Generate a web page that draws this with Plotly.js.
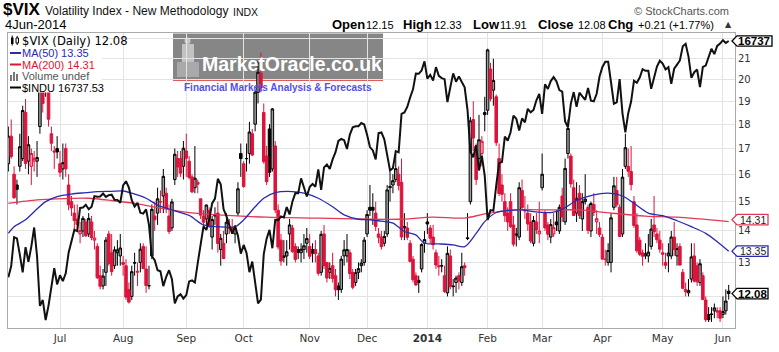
<!DOCTYPE html>
<html><head><meta charset="utf-8">
<script src="https://cdn.plot.ly/plotly-3.0.1.min.js"></script>
<style>html,body{margin:0;padding:0;background:#fff}#chart{width:779px;height:352px}</style>
</head><body><div id="chart"></div>
<script>
// ---------- categories (trading days) ----------
const tradingDays = [
'2013-06-05','2013-06-06','2013-06-07','2013-06-10','2013-06-11','2013-06-12','2013-06-13','2013-06-14','2013-06-17','2013-06-18','2013-06-19','2013-06-20','2013-06-21','2013-06-24','2013-06-25','2013-06-26','2013-06-27','2013-06-28',
'2013-07-01','2013-07-02','2013-07-03','2013-07-05','2013-07-08','2013-07-09','2013-07-10','2013-07-11','2013-07-12','2013-07-15','2013-07-16','2013-07-17','2013-07-18','2013-07-19','2013-07-22','2013-07-23','2013-07-24','2013-07-25','2013-07-26','2013-07-29','2013-07-30','2013-07-31',
'2013-08-01','2013-08-02','2013-08-05','2013-08-06','2013-08-07','2013-08-08','2013-08-09','2013-08-12','2013-08-13','2013-08-14','2013-08-15','2013-08-16','2013-08-19','2013-08-20','2013-08-21','2013-08-22','2013-08-23','2013-08-26','2013-08-27','2013-08-28','2013-08-29','2013-08-30',
'2013-09-03','2013-09-04','2013-09-05','2013-09-06','2013-09-09','2013-09-10','2013-09-11','2013-09-12','2013-09-13','2013-09-16','2013-09-17','2013-09-18','2013-09-19','2013-09-20','2013-09-23','2013-09-24','2013-09-25','2013-09-26','2013-09-27','2013-09-30',
'2013-10-01','2013-10-02','2013-10-03','2013-10-04','2013-10-07','2013-10-08','2013-10-09','2013-10-10','2013-10-11','2013-10-14','2013-10-15','2013-10-16','2013-10-17','2013-10-18','2013-10-21','2013-10-22','2013-10-23','2013-10-24','2013-10-25','2013-10-28','2013-10-29','2013-10-30','2013-10-31',
'2013-11-01','2013-11-04','2013-11-05','2013-11-06','2013-11-07','2013-11-08','2013-11-11','2013-11-12','2013-11-13','2013-11-14','2013-11-15','2013-11-18','2013-11-19','2013-11-20','2013-11-21','2013-11-22','2013-11-25','2013-11-26','2013-11-27','2013-11-29',
'2013-12-02','2013-12-03','2013-12-04','2013-12-05','2013-12-06','2013-12-09','2013-12-10','2013-12-11','2013-12-12','2013-12-13','2013-12-16','2013-12-17','2013-12-18','2013-12-19','2013-12-20','2013-12-23','2013-12-24','2013-12-26','2013-12-27','2013-12-30','2013-12-31',
'2014-01-02','2014-01-03','2014-01-06','2014-01-07','2014-01-08','2014-01-09','2014-01-10','2014-01-13','2014-01-14','2014-01-15','2014-01-16','2014-01-17','2014-01-21','2014-01-22','2014-01-23','2014-01-24','2014-01-27','2014-01-28','2014-01-29','2014-01-30','2014-01-31',
'2014-02-03','2014-02-04','2014-02-05','2014-02-06','2014-02-07','2014-02-10','2014-02-11','2014-02-12','2014-02-13','2014-02-14','2014-02-18','2014-02-19','2014-02-20','2014-02-21','2014-02-24','2014-02-25','2014-02-26','2014-02-27','2014-02-28',
'2014-03-03','2014-03-04','2014-03-05','2014-03-06','2014-03-07','2014-03-10','2014-03-11','2014-03-12','2014-03-13','2014-03-14','2014-03-17','2014-03-18','2014-03-19','2014-03-20','2014-03-21','2014-03-24','2014-03-25','2014-03-26','2014-03-27','2014-03-28','2014-03-31',
'2014-04-01','2014-04-02','2014-04-03','2014-04-04','2014-04-07','2014-04-08','2014-04-09','2014-04-10','2014-04-11','2014-04-14','2014-04-15','2014-04-16','2014-04-17','2014-04-21','2014-04-22','2014-04-23','2014-04-24','2014-04-25','2014-04-28','2014-04-29','2014-04-30',
'2014-05-01','2014-05-02','2014-05-05','2014-05-06','2014-05-07','2014-05-08','2014-05-09','2014-05-12','2014-05-13','2014-05-14','2014-05-15','2014-05-16','2014-05-19','2014-05-20','2014-05-21','2014-05-22','2014-05-23','2014-05-27','2014-05-28','2014-05-29','2014-05-30',
'2014-06-02','2014-06-03','2014-06-04'];

// ---------- $VIX daily OHLC ----------
const vixOpen = [
16.4,17.5,16.0,15.6,16.3,16.6,18.5,16.5,16.3,16.5,16.5,17.9,20.0,20.4,19.5,17.6,16.9,17.0,
16.4,16.2,17.0,15.6,15.0,14.6,14.4,13.9,14.0,14.3,13.9,14.3,13.7,13.5,12.6,12.3,12.7,13.9,13.3,12.9,13.3,13.2,
13.0,12.9,12.2,12.0,13.0,12.7,13.0,13.5,12.8,12.3,13.2,14.5,14.6,15.0,15.2,15.3,14.5,14.1,15.8,16.6,16.6,16.3,
16.9,16.5,15.9,15.5,15.7,15.1,14.5,14.4,14.7,13.8,14.5,14.6,13.4,13.6,13.9,14.1,14.1,13.9,14.6,16.8,
16.4,16.6,16.8,17.6,18.0,19.4,20.3,18.5,16.7,17.8,16.2,17.1,14.7,13.7,13.2,13.2,13.9,14.1,13.5,13.4,13.3,13.4,13.6,
13.5,13.4,13.4,13.2,12.7,13.9,13.0,12.7,12.9,12.6,12.3,12.2,13.2,13.2,13.3,12.7,12.4,12.7,12.9,13.0,
13.9,14.8,14.8,14.6,13.9,13.8,13.6,13.9,15.5,15.6,15.8,16.0,15.7,14.1,14.1,13.6,13.1,12.6,12.4,12.8,13.6,
14.3,14.1,13.8,13.3,12.9,12.9,12.6,12.1,13.2,12.3,12.4,12.6,12.4,12.9,13.75,15.0,18.2,17.1,16.6,16.8,18.5,
18.6,20.5,19.5,19.2,16.6,15.6,15.0,14.6,15.0,14.2,13.9,13.8,15.4,14.7,14.6,14.3,13.6,14.3,13.9,
15.5,14.6,14.2,13.8,13.9,14.3,14.0,15.2,14.3,16.8,16.7,15.5,14.6,15.3,14.4,15.0,14.8,14.0,14.9,14.3,14.1,
13.8,13.1,13.0,13.0,14.8,15.4,14.8,13.9,16.3,16.3,16.1,15.0,14.2,13.7,13.3,13.2,13.2,13.5,14.2,13.9,13.7,
13.3,13.0,13.2,13.2,13.8,13.2,13.5,12.7,12.2,12.1,12.5,13.2,12.9,12.4,12.6,11.9,11.5,11.5,11.6,11.6,11.6,
11.5,11.6,12.15];
const vixHigh = [
17.9,18.2,16.3,15.8,17.6,18.8,19.1,17.5,17.0,16.9,17.3,21.0,21.9,21.9,19.9,17.9,17.1,17.5,
16.9,17.2,17.2,16.0,15.2,14.9,14.9,14.3,14.5,14.4,14.6,14.5,14.0,13.6,12.9,12.8,13.8,14.0,13.9,13.5,13.7,13.9,
13.2,13.1,12.4,12.9,13.3,13.0,13.6,13.6,13.5,12.9,14.9,15.0,15.5,15.4,16.2,15.5,14.9,15.1,17.0,16.9,16.9,17.3,
17.6,16.7,16.0,17.1,15.8,15.1,14.7,14.9,14.8,14.5,14.8,15.0,13.9,14.0,14.6,14.4,14.4,14.2,15.7,17.2,
16.5,17.2,18.1,17.8,19.5,20.9,21.3,18.9,17.1,18.0,18.7,17.3,14.9,13.9,13.7,13.7,14.4,14.2,13.6,13.5,13.6,13.9,14.1,
13.9,13.6,13.7,13.3,14.0,14.2,13.0,13.0,13.3,12.8,12.4,13.2,13.7,13.9,13.4,12.8,12.8,13.0,13.1,13.8,
14.7,15.6,15.3,15.0,14.1,14.0,14.0,15.6,16.1,16.0,16.8,16.3,16.6,14.6,14.3,13.7,13.2,12.7,12.6,13.6,14.0,
14.6,14.2,14.2,13.4,13.2,13.1,12.9,13.5,13.4,12.5,12.6,12.7,13.3,13.0,14.6,18.3,19.0,17.2,18.4,17.5,19.2,
21.5,20.8,21.0,19.3,17.2,16.0,15.3,14.8,15.3,14.5,14.1,15.7,15.8,15.2,14.9,14.6,14.5,14.6,15.0,
16.8,14.7,14.3,14.4,14.6,14.7,14.9,15.5,16.6,18.2,16.8,15.8,15.7,15.6,15.3,16.0,14.9,15.0,15.3,14.7,14.3,
13.9,13.4,13.6,14.6,15.9,15.9,14.9,16.2,17.6,17.0,17.1,15.2,14.6,13.8,13.4,13.6,13.9,14.4,15.2,14.1,14.0,
13.6,13.3,13.6,14.0,14.3,13.6,13.6,12.8,12.4,12.5,13.6,13.6,13.0,13.1,12.7,12.0,11.7,11.7,11.8,11.7,11.7,
12.0,12.2,12.33];
const vixLow = [
16.1,16.6,15.1,14.9,16.1,16.5,16.2,16.0,15.6,16.1,15.9,17.6,18.5,19.2,17.9,16.9,16.2,16.6,
15.9,15.8,15.9,14.7,14.5,14.0,14.0,13.6,13.8,13.8,13.8,13.7,13.4,12.5,12.2,12.2,12.3,12.9,12.6,12.8,12.9,12.9,
12.6,11.9,11.8,11.9,12.6,12.3,12.7,12.8,12.1,12.2,13.1,14.0,14.2,14.6,14.6,14.6,13.9,14.0,15.6,15.9,15.9,15.8,
15.9,15.8,15.3,15.3,15.3,14.4,14.1,14.2,14.1,13.4,14.2,13.3,12.9,13.1,13.6,13.9,13.9,13.6,14.5,15.9,
15.5,16.1,16.4,16.7,17.7,18.9,19.4,16.4,15.6,15.9,16.1,14.6,13.4,12.9,13.0,12.9,13.4,13.3,13.0,13.1,13.0,13.1,13.3,
13.1,13.0,13.0,12.6,12.6,12.8,12.4,12.5,12.4,12.0,11.9,12.1,12.9,13.0,12.5,12.2,12.3,12.5,12.7,12.9,
13.8,14.5,14.2,14.0,13.6,13.4,13.5,13.8,15.0,15.3,15.7,15.4,13.7,13.7,13.7,13.0,12.4,12.3,12.1,12.7,13.3,
13.9,13.6,13.4,12.8,12.6,12.7,12.1,12.0,12.2,12.0,12.1,12.2,12.3,12.6,13.7,14.9,16.9,15.6,16.2,16.3,17.7,
18.4,19.0,18.8,17.1,15.2,15.0,14.3,14.0,14.1,13.5,13.5,13.7,14.7,14.4,14.0,13.6,13.5,13.9,13.6,
15.4,14.0,13.7,13.6,13.8,14.0,13.9,14.3,14.2,16.6,15.5,14.5,14.3,14.4,14.0,14.9,13.9,13.8,14.5,13.9,13.8,
13.1,12.9,12.9,12.7,14.7,14.8,13.8,13.8,16.2,15.9,15.4,14.1,13.3,13.2,12.9,13.1,13.0,13.4,13.8,13.6,13.3,
12.9,12.8,12.7,13.1,13.2,12.9,12.9,12.2,12.0,12.0,12.4,12.4,12.3,12.3,11.9,11.3,11.3,11.3,11.4,11.4,11.3,
11.4,11.5,11.91];
const vixClose = [
17.50,16.68,15.14,15.44,17.07,18.59,16.41,17.15,16.80,16.61,16.64,20.49,18.90,20.11,18.21,17.21,16.86,16.86,
16.07,16.44,16.20,14.89,14.78,14.35,14.21,14.01,14.42,13.84,14.42,13.78,13.77,12.54,12.29,12.59,13.70,12.97,12.72,13.39,13.39,13.45,
12.94,11.98,11.84,12.72,12.98,12.73,13.41,12.81,12.31,12.31,14.73,14.37,15.10,14.99,15.92,14.76,13.98,14.99,16.77,16.27,16.04,17.01,
16.61,15.88,15.35,15.85,15.63,14.53,14.29,14.88,14.16,14.38,14.53,13.59,13.76,13.12,14.29,14.08,14.01,14.08,15.46,16.60,
15.54,16.60,17.67,16.74,19.41,20.34,19.60,16.48,15.72,16.07,18.66,14.71,13.48,13.04,13.16,13.33,14.20,13.33,13.09,13.31,13.41,13.52,13.75,
13.19,13.28,13.27,12.67,13.89,12.90,12.53,12.82,12.52,12.19,12.19,13.10,13.39,13.40,12.66,12.26,12.69,12.81,12.98,13.70,
14.55,14.70,14.70,14.15,13.79,13.49,13.82,15.42,15.54,15.76,16.21,15.58,13.80,14.15,13.79,13.03,12.48,12.33,12.46,13.56,13.72,
14.23,13.76,13.55,12.92,12.87,12.89,12.14,13.28,12.28,12.28,12.53,12.44,12.87,12.84,13.77,18.14,17.42,15.80,17.35,17.29,18.41,
21.44,19.11,19.95,17.23,15.29,15.26,14.51,14.30,14.14,13.57,13.87,15.50,14.79,14.68,14.23,13.67,14.35,14.04,14.00,
16.00,14.10,13.89,14.21,14.11,14.20,14.80,14.47,16.22,17.82,15.64,14.52,15.12,14.52,15.00,15.09,14.02,14.93,14.62,14.41,13.88,
13.10,13.09,13.37,14.44,15.57,14.89,13.82,15.89,17.03,16.11,15.61,14.18,13.36,13.25,13.19,13.27,13.32,14.06,13.97,13.71,13.41,
13.25,12.91,13.29,13.80,13.40,13.43,12.92,12.23,12.13,12.17,13.17,12.44,12.42,12.96,11.91,11.36,11.36,11.51,11.68,11.57,11.40,
11.58,11.87,12.08];

// ---------- $INDU daily close (overlay) ----------
const induClose = [
14960.59,15040.62,15248.12,15238.59,15122.02,14995.23,15176.08,15070.18,15179.85,15318.23,15112.19,14758.32,14799.40,14659.56,14760.31,14910.14,15024.49,14909.60,
14974.96,14932.41,14988.55,15135.84,15224.69,15300.34,15291.66,15460.92,15464.30,15484.26,15451.85,15470.52,15548.54,15543.74,15545.55,15567.74,15542.24,15555.61,15558.83,15521.97,15520.59,15499.54,
15628.02,15658.36,15612.13,15518.74,15470.67,15498.32,15425.51,15419.68,15451.01,15337.66,15112.19,15081.47,15010.74,15002.99,14897.55,14963.74,15010.51,14946.46,14776.13,14824.51,14840.95,14810.31,
14833.96,14930.87,14937.48,14922.50,15063.12,15191.06,15326.60,15300.64,15376.06,15494.78,15529.73,15676.94,15636.55,15451.09,15401.38,15334.59,15273.26,15328.30,15258.24,15129.67,
15191.70,15133.14,14996.48,15072.58,14936.24,14776.53,14802.98,15126.07,15237.11,15301.26,15168.01,15373.83,15371.65,15399.65,15392.20,15467.66,15413.33,15509.21,15570.28,15568.93,15680.35,15618.76,15545.75,
15615.55,15639.12,15618.22,15746.88,15593.98,15761.78,15783.10,15750.67,15821.63,15876.22,15961.70,15976.02,15967.03,15900.82,16009.99,16064.77,16072.54,16072.80,16097.33,16086.41,
16008.77,15914.62,15889.77,15821.51,16020.20,16025.53,15973.13,15843.53,15739.43,15755.36,15884.57,15875.26,16167.97,16179.08,16221.14,16294.61,16357.55,16479.88,16478.41,16504.29,16576.66,
16441.35,16469.99,16425.10,16530.94,16462.74,16444.76,16437.05,16257.94,16373.86,16481.94,16417.01,16458.56,16414.44,16373.34,16197.35,15879.11,15837.88,15928.56,15738.79,15848.61,15698.85,
15372.80,15445.24,15440.23,15628.53,15794.08,15801.79,15994.77,15963.94,16027.59,16154.39,16130.40,16040.56,16133.23,16103.30,16207.14,16179.66,16198.41,16272.65,16321.71,
16168.03,16395.88,16360.18,16421.89,16452.72,16418.68,16351.25,16340.08,16108.89,16065.67,16247.22,16336.19,16222.17,16331.05,16302.77,16276.69,16367.88,16268.99,16264.23,16323.06,16457.66,
16532.61,16573.00,16572.55,16412.71,16245.87,16256.14,16437.18,16170.22,16026.75,16173.24,16262.56,16424.85,16408.54,16449.25,16514.37,16501.65,16501.65,16361.46,16448.74,16535.37,16580.84,
16558.87,16512.89,16530.55,16401.02,16518.54,16550.97,16583.34,16695.47,16715.44,16613.97,16446.81,16491.31,16511.86,16374.31,16533.06,16543.08,16606.27,16675.50,16633.18,16698.74,16717.17,
16743.63,16722.34,16737.53];

// ---------- moving averages ----------
const ma50Dates = ['2013-06-05','2013-06-07','2013-06-13','2013-06-18','2013-06-24','2013-06-28','2013-07-08','2013-07-15','2013-07-19','2013-07-26',
'2013-08-01','2013-08-06','2013-08-13','2013-08-19','2013-08-26','2013-09-04','2013-09-11','2013-09-18','2013-09-26','2013-10-01','2013-10-07','2013-10-10','2013-10-16','2013-10-24','2013-10-30',
'2013-11-06','2013-11-13','2013-11-19','2013-11-26','2013-12-03','2013-12-06','2013-12-13','2013-12-19','2013-12-26','2013-12-31','2014-01-08','2014-01-15','2014-01-22','2014-01-28','2014-01-31',
'2014-02-06','2014-02-12','2014-02-20','2014-02-26','2014-03-06','2014-03-12','2014-03-19','2014-03-27','2014-04-03','2014-04-10','2014-04-16','2014-04-24','2014-05-01','2014-05-08','2014-05-15','2014-05-22','2014-05-29','2014-06-04'];
const ma50Values = [13.92,14.14,14.37,14.65,15.00,15.18,15.27,15.32,15.36,15.37,
15.38,15.30,15.12,14.88,14.71,14.52,14.20,14.14,14.14,14.37,14.82,15.12,15.32,15.36,15.30,
15.12,14.82,14.54,14.39,14.37,14.34,14.26,13.98,13.87,13.60,13.58,13.55,13.49,13.92,14.31,
14.62,14.69,14.71,14.65,14.62,14.73,15.04,15.24,15.30,15.20,14.94,14.60,14.51,14.34,14.14,13.92,13.65,13.35];
const ma200Dates = ['2013-06-05','2013-06-19','2013-06-28','2013-07-16','2013-07-26','2013-08-08','2013-08-20','2013-09-04','2013-09-18','2013-10-11','2013-11-06','2013-12-03',
'2013-12-17','2014-01-06','2014-01-22','2014-01-31','2014-02-18','2014-03-06','2014-03-20','2014-04-04','2014-04-23','2014-05-08','2014-06-04'];
const ma200Values = [14.94,15.06,15.10,15.12,15.04,14.92,14.77,14.62,14.54,14.46,14.43,14.39,
14.39,14.46,14.43,14.57,14.71,14.71,14.71,14.60,14.50,14.46,14.31];

// ---------- axis ticks ----------
const monthTickDates = ['2013-07-01','2013-08-01','2013-09-03','2013-10-01','2013-11-01','2013-12-02','2014-01-02','2014-02-03','2014-03-03','2014-04-01','2014-05-01','2014-06-02'];
const monthTickLabels = ['Jul','Aug','Sep','Oct','Nov','Dec','<b>2014</b>','Feb','Mar','Apr','May','Jun'];
const yTickValues = [12,13,14,15,16,17,18,19,20,21,22];
const yTickLabels = ['','13','14','15','16','17','18','19','20','21',''];

// ---------- geometry helpers ----------
const PL=8, PR=735, PT=33, PB=328;
const X = px => (px-PL)/(PR-PL);
const Y = py => (PB-py)/(PB-PT);
const vixRange = [Math.log10(11.14), Math.log10(22.31)];
const induRange = [4.16447, 4.22534];
const pyOf = (v, r) => PT + (r[1]-Math.log10(v))/(r[1]-r[0])*(PB-PT);

// ---------- split candles (black: close >= prior close, red: lower) ----------
const mk = () => ({x:[],open:[],high:[],low:[],close:[]});
const blackG = mk(), redG = mk();
tradingDays.forEach((d,i) => {
  const g = (i===0 || vixClose[i] >= vixClose[i-1]) ? blackG : redG;
  g.x.push(d); g.open.push(vixOpen[i]); g.high.push(vixHigh[i]); g.low.push(vixLow[i]); g.close.push(vixClose[i]);
});
const RED = '#dc143c';
const candle = (g, col, hollow) => ({
  type:'candlestick', x:g.x, open:g.open, high:g.high, low:g.low, close:g.close,
  increasing:{line:{color:col,width:1}, fillcolor:hollow},
  decreasing:{line:{color:col,width:1}, fillcolor:col},
  whiskerwidth:0, hoverinfo:'skip', showlegend:false
});

const traces = [
  candle(blackG, '#000000', '#9c9c9c'),
  candle(redG, RED, '#f4a3b6'),
  {type:'scatter', mode:'lines', x:ma200Dates, y:ma200Values, line:{color:'#e23a55', width:1.3, shape:'spline', smoothing:0.8}, hoverinfo:'skip'},
  {type:'scatter', mode:'lines', x:ma50Dates, y:ma50Values, line:{color:'#2a2ab0', width:1.3, shape:'spline', smoothing:0.8}, hoverinfo:'skip'},
  {type:'scatter', mode:'lines', x:tradingDays, y:induClose, yaxis:'y2', line:{color:'#111111', width:2}, hoverinfo:'skip'}
];

// ---------- annotations ----------
const SANS = 'Liberation Sans, Arial, sans-serif';
const DJV = 'DejaVu Sans, Verdana, sans-serif';
const ann = (px, py, text, size, color, family, extra) => Object.assign({
  xref:'paper', yref:'paper', x:X(px), y:Y(py), text:text, showarrow:false,
  xanchor:'left', yanchor:'middle', borderpad:0,
  font:{family:family||SANS, size:size, color:color||'#000'}
}, extra||{});

const lastVix = vixClose[vixClose.length-1];
const lastMa50 = ma50Values[ma50Values.length-1];
const lastMa200 = ma200Values[ma200Values.length-1];
const lastIndu = induClose[induClose.length-1];
const yIndu = pyOf(lastIndu, induRange);
const y200 = pyOf(lastMa200, vixRange) - 2;   // tag nudged up so it clears the "14" tick label
const y50 = pyOf(lastMa50, vixRange);
const yVix = pyOf(lastVix, vixRange);

const annotations = [
  ann(2, 10, '<b>$VIX</b>', 17, '#000'),
  ann(44, 11.5, 'Volatility Index - New Methodology', 12, '#111'),
  ann(232, 12, 'INDX', 10.5, '#111'),
  ann(4, 25, '4Jun-2014', 13, '#000'),
  ann(633, 11.5, '© StockCharts.com', 11, '#555'),
  ann(331, 24.5, '<b>Open</b>', 13), ann(365, 25, '12.15', 11),
  ann(402, 24.5, '<b>High</b>', 13), ann(433, 25, '12.33', 11),
  ann(472, 24.5, '<b>Low</b>', 13), ann(499, 25, '11.91', 11),
  ann(537, 24.5, '<b>Close</b>', 13), ann(577, 25, '12.08', 11),
  ann(607, 24.5, '<b>Chg</b>', 13), ann(637, 25, '+0.21 (+1.77%)', 11),
  ann(724, 24, '▲', 8, '#333', DJV),
  // legend
  ann(21, 40.5, '$VIX (Daily) 12.08', 11.6, '#000', DJV),
  ann(21, 53, 'MA(50) 13.35', 11, '#2a2ab0'),
  ann(21, 64.5, 'MA(200) 14.31', 11, RED),
  ann(21, 76, 'Volume undef', 11, '#555'),
  ann(21, 87.5, '$INDU 16737.53', 11, '#000'),
  // watermark
  ann(292, 64, '<b>MarketOracle.co.uk</b>', 19.5, '#ffffff', SANS, {xanchor:'center'}),
  ann(278, 87, '<b>Financial Markets Analysis &amp; Forecasts</b>', 10, '#5050ee', SANS, {xanchor:'center'}),
  // last value tags
  ann(754, yIndu, '<b>' + Math.floor(lastIndu) + '</b>', 11.5, '#000', SANS, {xanchor:'center'}),
  ann(752.5, y200, lastMa200.toFixed(2), 10.5, '#222', SANS, {xanchor:'center'}),
  ann(752.5, y50, lastMa50.toFixed(2), 10.5, '#222', SANS, {xanchor:'center'}),
  ann(752.5, yVix, '<b>' + lastVix.toFixed(2) + '</b>', 11.5, '#000', SANS, {xanchor:'center'})
];

// ---------- shapes ----------
const P = (px,py) => X(px) + ',' + Y(py);
const tag = (yc, x0, x1, col) => ({
  type:'path', xref:'paper', yref:'paper', layer:'above',
  path:'M' + P(x0-5,yc) + ' L' + P(x0,yc-5.2) + ' L' + P(x1,yc-5.2) + ' L' + P(x1,yc+5.2) + ' L' + P(x0,yc+5.2) + ' Z',
  fillcolor:'#ffffff', line:{color:col, width:1.3}
});
const rect = (x0,y0,x1,y1,fill,layer,line) => ({type:'rect', xref:'paper', yref:'paper', x0:X(x0), x1:X(x1), y0:Y(y1), y1:Y(y0),
  fillcolor:fill, line:line||{width:0}, layer:layer||'above'});
const seg = (x0,y0,x1,y1,col,w,layer) => ({type:'line', xref:'paper', yref:'paper', x0:X(x0), x1:X(x1), y0:Y(y0), y1:Y(y1),
  line:{color:col, width:w}, layer:layer||'above'});

const shapes = [
  // watermark block
  rect(173, 33.5, 383, 79, '#868686', 'between'),
  seg(173, 80, 383, 80, '#e05a5a', 2, 'between'),
  rect(177, 62, 199, 77, '#a9a9a9', 'between'),
  rect(182, 44, 194, 62, '#c2c2c2', 'between'),
  {type:'circle', xref:'paper', yref:'paper', x0:X(184.5), x1:X(190.5), y0:Y(44), y1:Y(37.5), fillcolor:'#c8c8c8', line:{width:0}, layer:'between'},
  // legend background + icons
  rect(8.5, 33.5, 102, 92.5, '#ffffff', 'above'),
  seg(12.2, 35.5, 12.2, 45.5, '#000', 1),
  rect(11, 37.5, 13.5, 44, '#000000', 'above'),
  seg(17.2, 36, 17.2, 45, '#000', 1),
  rect(16, 38, 18.5, 43, '#ffffff', 'above', {color:'#000', width:1}),
  seg(10, 53, 21, 53, '#2a2ab0', 2),
  seg(10, 64.5, 21, 64.5, RED, 2),
  rect(10, 75, 12, 81, '#777', 'above'),
  rect(13, 72, 15, 81, '#777', 'above'),
  rect(16, 74, 18, 81, '#777', 'above'),
  seg(10, 87.5, 21, 87.5, '#000', 2),
  // last value tags
  tag(yIndu, 737, 772, '#000'),
  tag(y200, 737, 768, '#e23a55'),
  tag(y50, 737, 768, '#2a2ab0'),
  tag(yVix, 737, 768, '#000')
];

const layout = {
  width:779, height:352,
  margin:{l:PL, r:779-PR, t:PT, b:352-PB, pad:0},
  paper_bgcolor:'#ffffff', plot_bgcolor:'#ffffff',
  showlegend:false, boxgap:0.12, boxgroupgap:0, dragmode:false,
  xaxis:{type:'category', categoryorder:'array', categoryarray:tradingDays, range:[-0.12, 253.2],
    tickmode:'array', tickvals:monthTickDates, ticktext:monthTickLabels,
    showgrid:true, gridcolor:'#e3e3e3', gridwidth:1, showline:true, linecolor:'#aaaaaa', linewidth:1, mirror:true,
    ticks:'', tickfont:{family:DJV, size:10.5, color:'#333'}, rangeslider:{visible:false}, zeroline:false, fixedrange:true},
  yaxis:{type:'log', range:vixRange, side:'right', tickmode:'array', tickvals:yTickValues, ticktext:yTickLabels,
    showgrid:true, gridcolor:'#e3e3e3', gridwidth:1, showline:true, linecolor:'#aaaaaa', linewidth:1, mirror:true,
    ticks:'', tickfont:{family:DJV, size:10, color:'#333'}, zeroline:false, fixedrange:true},
  yaxis2:{type:'log', range:induRange, overlaying:'y', side:'right', visible:false, fixedrange:true},
  shapes:shapes, annotations:annotations
};

Plotly.newPlot('chart', traces, layout, {staticPlot:true, displayModeBar:false});
</script></body></html>
